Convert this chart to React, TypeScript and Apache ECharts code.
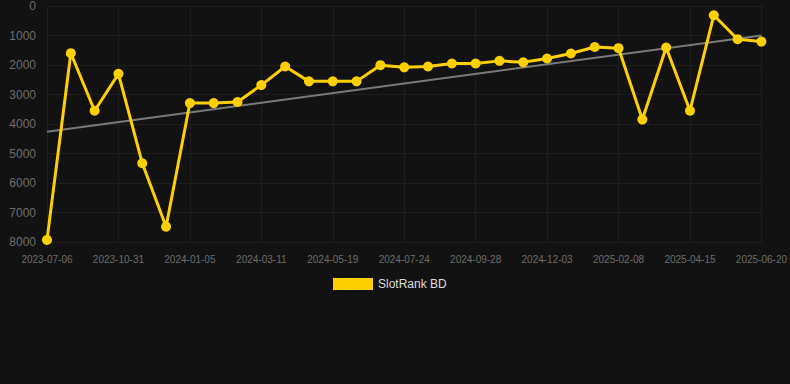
import React, { useEffect, useRef } from "react";
import * as echarts from "echarts";

const categories = [
  "2023-07-06", "2023-08-14", "2023-09-22", "2023-10-31", "2023-11-22", "2023-12-14",
  "2024-01-05", "2024-01-27", "2024-02-18", "2024-03-11", "2024-04-03", "2024-04-26",
  "2024-05-19", "2024-06-10", "2024-07-02", "2024-07-24", "2024-08-15", "2024-09-06",
  "2024-09-28", "2024-10-20", "2024-11-11", "2024-12-03", "2024-12-25", "2025-01-17",
  "2025-02-08", "2025-03-02", "2025-03-24", "2025-04-15", "2025-05-07", "2025-05-29",
  "2025-06-20",
];

const rankValues = [
  7930, 1600, 3550, 2300, 5330, 7480, 3290, 3290, 3255, 2680, 2050,
  2555, 2555, 2555, 2005, 2080, 2050, 1950, 1950, 1860, 1910, 1780,
  1610, 1390, 1430, 3850, 1410, 3550, 315, 1125, 1205,
];

const trendStart = 4260;
const trendEnd = 1000;

const yTicks = { min: 0, max: 8000, interval: 1000 };

export default function App() {
  const ref = useRef<HTMLDivElement>(null);
  useEffect(() => {
    if (!ref.current) return;
    const chart = echarts.init(ref.current, null, { renderer: "svg" });
    chart.setOption({
      animation: false,
      backgroundColor: "#121212",
      grid: { left: 47, right: 28, top: 6, bottom: 142, containLabel: false },
      legend: {
        data: ["SlotRank BD"],
        left: 328,
        top: 273,
        icon: "rect",
        itemWidth: 40,
        itemHeight: 12,
        itemGap: 10,
        textStyle: { color: "#dddddd", fontSize: 12, fontFamily: "Arial, Liberation Sans, sans-serif" },
      },
      xAxis: {
        type: "category",
        data: categories,
        boundaryGap: false,
        axisLine: { show: false },
        axisTick: { show: false },
        axisLabel: {
          interval: 2,
          color: "#6e6e6e",
          fontSize: 10,
          margin: 12,
          fontFamily: "Arial, Liberation Sans, sans-serif",
        },
        splitLine: { show: true, interval: 2, lineStyle: { color: "#1e1e1e", width: 1 } },
      },
      yAxis: {
        type: "value",
        inverse: true,
        min: yTicks.min,
        max: yTicks.max,
        interval: yTicks.interval,
        axisLine: { show: false },
        axisTick: { show: false },
        axisLabel: {
          color: "#6e6e6e",
          fontSize: 12,
          margin: 11,
          fontFamily: "Arial, Liberation Sans, sans-serif",
          formatter: (v: number) => String(v),
        },
        splitLine: { show: true, lineStyle: { color: "#1e1e1e", width: 1 } },
      },
      series: [
        {
          name: "Trend",
          type: "line",
          data: [
            [categories[0], trendStart],
            [categories[categories.length - 1], trendEnd],
          ],
          symbol: "none",
          lineStyle: { color: "#7a7a7a", width: 2 },
          z: 1,
        },
        {
          name: "SlotRank BD",
          type: "line",
          data: rankValues,
          symbol: "circle",
          symbolSize: 10,
          itemStyle: { color: "#ffd000" },
          lineStyle: { color: "#ffd000", width: 3 },
          z: 2,
        },
      ],
    });
    return () => chart.dispose();
  }, []);
  return <div ref={ref} style={{ width: 790, height: 384, position: "absolute", left: 0, top: 0 }} />;
}
